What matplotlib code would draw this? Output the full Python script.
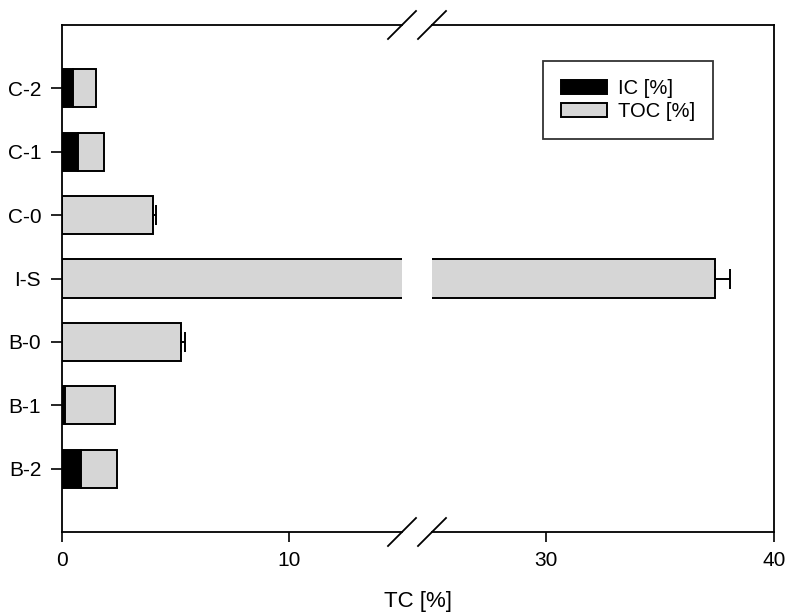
import matplotlib
matplotlib.use("Agg")
import matplotlib.pyplot as plt
from matplotlib.lines import Line2D

plt.rcParams['font.family'] = ['Liberation Sans', 'DejaVu Sans']

# ---- data (top to bottom) ----
categories = ['C-2', 'C-1', 'C-0', 'I-S', 'B-0', 'B-1', 'B-2']
ic_values = [0.47, 0.71, 0.0, 0.0, 0.0, 0.13, 0.86]
toc_values = [1.05, 1.14, 4.00, 37.43, 5.24, 2.22, 1.56]
tc_err = [0.0, 0.0, 0.15, 0.62, 0.17, 0.0, 0.0]
left_ticks = [0, 10]
right_ticks = [30, 40]
left_range = (0, 15)
right_range = (25, 40)

W, H = 786, 614
fig = plt.figure(figsize=(W / 100, H / 100), dpi=100)

def px_axes(x0, x1, y0, y1):
    return fig.add_axes([x0 / W, 1 - y1 / H, (x1 - x0) / W, (y1 - y0) / H])

ax1 = px_axes(62, 402, 25, 532)
ax2 = px_axes(432, 774, 25, 532)

n = len(categories)
ypos = [n - 1 - i for i in range(n)]
totals = [a + b for a, b in zip(ic_values, toc_values)]
gray = '#d6d6d6'
lw = 1.4

for ax in (ax1, ax2):
    ax.barh(ypos, ic_values, height=0.6, color='black', edgecolor='black',
            linewidth=lw, label='IC [%]', zorder=2)
    ax.barh(ypos, toc_values, left=ic_values, height=0.6, color=gray,
            edgecolor='black', linewidth=lw, label='TOC [%]', zorder=2)
    for y, t, e in zip(ypos, totals, tc_err):
        if e > 0:
            ax.errorbar(t, y, xerr=[[0], [e]], fmt='none', ecolor='black',
                        elinewidth=1.4, capsize=7, capthick=1.4, zorder=3)
    ax.set_ylim(-1, n)
    for s in ax.spines.values():
        s.set_linewidth(1.3)
    ax.tick_params(axis='x', direction='out', length=7, width=1.2,
                   labelsize=15, pad=7)

ax1.set_xlim(*left_range)
ax2.set_xlim(*right_range)
ax1.set_xticks(left_ticks)
ax2.set_xticks(right_ticks)
ax1.set_yticks(ypos)
ax1.set_yticklabels(categories)
ax1.tick_params(axis='y', direction='out', length=8, width=1.2,
                labelsize=15, pad=7)
ax2.set_yticks([])
ax1.spines['right'].set_visible(False)
ax2.spines['left'].set_visible(False)

# break marks
for xc in (402, 432):
    for yc in (25, 532):
        fig.add_artist(Line2D([(xc - 14) / W, (xc + 14) / W],
                              [1 - (yc + 14) / H, 1 - (yc - 14) / H],
                              transform=fig.transFigure, color='black',
                              linewidth=1.3))

fig.text((62 + 774) / 2 / W, 1 - 602 / H, 'TC [%]', ha='center', va='center',
         fontsize=16)

h, l = ax1.get_legend_handles_labels()
leg = ax2.legend(h, l, loc='upper left',
                 bbox_to_anchor=(543 / W, 1 - 61 / H),
                 bbox_transform=fig.transFigure,
                 fontsize=14.5, frameon=True, fancybox=False,
                 handlelength=2.3, handleheight=0.7, labelspacing=0.2,
                 borderpad=0.9, handletextpad=0.5, borderaxespad=0)
leg.get_frame().set_edgecolor('black')
leg.get_frame().set_linewidth(1.3)

fig.savefig('out.png', dpi=100)
